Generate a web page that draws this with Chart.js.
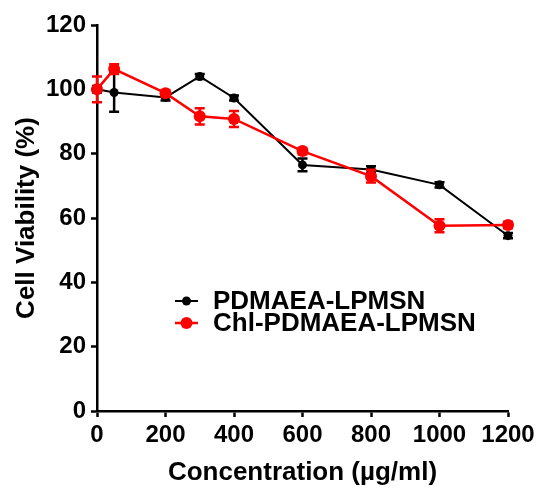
<!DOCTYPE html>
<html>
<head>
<meta charset="utf-8">
<script src="https://cdn.jsdelivr.net/npm/chart.js@4.4.1/dist/chart.umd.min.js"></script>
<style>
  html, body { margin: 0; padding: 0; background: #fff; }
  #wrap { width: 540px; height: 488px; }
</style>
</head>
<body>
<div id="wrap"><canvas id="viabilityChart" width="540" height="488"></canvas></div>
<script>
// concentrations (µg/ml)
const concentrations = [0, 50, 200, 300, 400, 600, 800, 1000, 1200];

// PDMAEA-LPMSN
const plainLabel = "PDMAEA-LPMSN";
const plainMean = [100, 99, 97.5, 104, 97.3, 76.5, 75.1, 70.3, 54.5];
const plainErr = [1, 6, 1, 0.8, 0.8, 2, 1, 0.8, 0.8];

// Chl-PDMAEA-LPMSN
const chlLabel = "Chl-PDMAEA-LPMSN";
const chlMean = [100, 106.3, 98.8, 91.6, 90.8, 80.8, 73, 57.6, 57.8];
const chlErr = [4, 1.5, 1, 2.5, 2.5, 1, 2, 2, 1];

const yTicks = [0, 20, 40, 60, 80, 100, 120];
const xTicks = [0, 200, 400, 600, 800, 1000, 1200];

const FONT = "'Liberation Sans', Arial, sans-serif";
const RED = "#ff0000";

function toPoints(xs, ys) {
    return xs.map((x, i) => ({ x: x, y: ys[i] }));
}

// draws vertical error bars for each dataset, right after it is drawn
const errorBars = {
    id: "errorBars",
    afterDatasetDraw(chart, args) {
        const ds = chart.data.datasets[args.index];
        if (!ds.errors) return;
        const ctx = chart.ctx;
        const yScale = chart.scales.y;
        ctx.save();
        ctx.strokeStyle = ds.borderColor;
        ctx.lineWidth = 2.5;
        args.meta.data.forEach((pt, i) => {
            const v = ds.data[i].y;
            const e = ds.errors[i];
            const top = yScale.getPixelForValue(v + e);
            const bot = yScale.getPixelForValue(v - e);
            const cap = ds.capWidth;
            ctx.beginPath();
            ctx.moveTo(pt.x, top);
            ctx.lineTo(pt.x, bot);
            ctx.moveTo(pt.x - cap, top);
            ctx.lineTo(pt.x + cap, top);
            ctx.moveTo(pt.x - cap, bot);
            ctx.lineTo(pt.x + cap, bot);
            ctx.stroke();
        });
        ctx.restore();
    }
};

// legend inside the plot, GraphPad style
const insideLegend = {
    id: "insideLegend",
    afterDraw(chart, args, opts) {
        const ctx = chart.ctx;
        ctx.save();
        ctx.font = "bold 26px " + FONT;
        ctx.textBaseline = "middle";
        chart.data.datasets.forEach((ds, i) => {
            const y = opts.y + i * opts.rowGap;
            ctx.strokeStyle = ds.borderColor;
            ctx.lineWidth = ds.borderWidth;
            ctx.beginPath();
            ctx.moveTo(opts.x, y);
            ctx.lineTo(opts.x + 23, y);
            ctx.stroke();
            ctx.fillStyle = ds.borderColor;
            ctx.beginPath();
            ctx.arc(opts.x + 11.5, y, ds.pointRadius, 0, Math.PI * 2);
            ctx.fill();
            ctx.fillStyle = "#000";
            ctx.fillText(ds.label, opts.x + 38, y + 1);
        });
        ctx.restore();
    }
};

new Chart(document.getElementById("viabilityChart"), {
    type: "line",
    data: {
        datasets: [{
            label: plainLabel,
            data: toPoints(concentrations, plainMean),
            errors: plainErr,
            capWidth: 5,
            borderColor: "#000",
            backgroundColor: "#000",
            borderWidth: 2,
            pointRadius: 4.5,
            pointBorderWidth: 0,
            order: 1,
            clip: false,
        }, {
            label: chlLabel,
            data: toPoints(concentrations, chlMean),
            errors: chlErr,
            capWidth: 5,
            borderColor: RED,
            backgroundColor: RED,
            borderWidth: 2.5,
            pointRadius: 6,
            pointBorderWidth: 0,
            order: 0,
            clip: false,
        }],
    },
    options: {
        responsive: false,
        animation: false,
        layout: { padding: { top: 25, right: 32, left: 0, bottom: 0 } },
        plugins: {
            legend: { display: false },
            tooltip: { enabled: false },
            insideLegend: { x: 175, y: 301, rowGap: 22 },
        },
        scales: {
            x: {
                type: "linear",
                min: 0,
                max: 1200,
                afterBuildTicks: axis => { axis.ticks = xTicks.map(v => ({ value: v })); },
                afterFit: axis => { axis.height = 77; },
                grid: { drawOnChartArea: false, drawTicks: true, tickLength: 6, tickWidth: 2.5, tickColor: "#000" },
                border: { display: true, color: "#000", width: 2.5 },
                ticks: { color: "#000", padding: 4, callback: v => String(v), font: { family: FONT, size: 24, weight: "bold" }, maxRotation: 0 },
                title: { display: true, text: "Concentration (µg/ml)", color: "#000", padding: { top: 0, bottom: 0 }, font: { family: FONT, size: 26, weight: "bold" } },
            },
            y: {
                min: 0,
                max: 120,
                afterBuildTicks: axis => { axis.ticks = yTicks.map(v => ({ value: v })); },
                afterFit: axis => { axis.width = 97; },
                grid: { drawOnChartArea: false, drawTicks: true, tickLength: 6, tickWidth: 2.5, tickColor: "#000" },
                border: { display: true, color: "#000", width: 2.5 },
                ticks: { color: "#000", padding: 5, callback: v => String(v), font: { family: FONT, size: 24, weight: "bold" } },
                title: { display: true, text: "Cell Viability (%)", color: "#000", padding: { top: 11, bottom: 4 }, font: { family: FONT, size: 26, weight: "bold" } },
            },
        },
    },
    plugins: [errorBars, insideLegend],
});
</script>
</body>
</html>
